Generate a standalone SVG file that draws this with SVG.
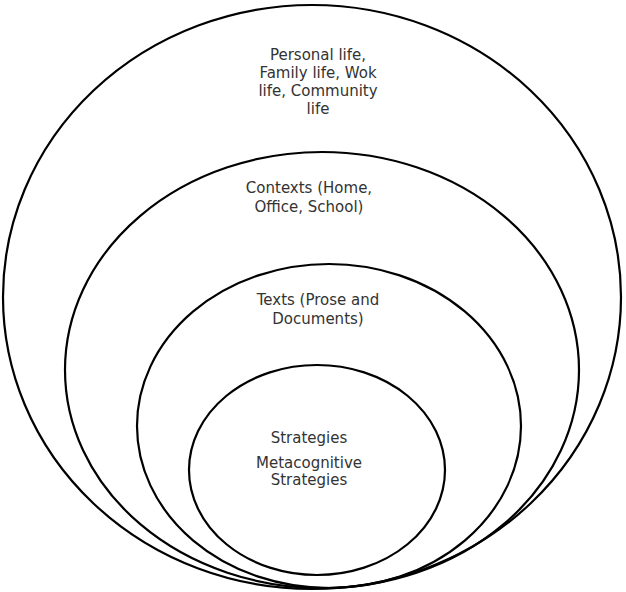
<svg xmlns="http://www.w3.org/2000/svg" width="626" height="592" viewBox="0 0 626 592">
<style>
.c{fill:none;stroke:#000;stroke-width:2.2}
.t{font-family:"DejaVu Sans",Verdana,sans-serif;font-size:15px;fill:#333;text-anchor:middle}
</style>
<rect width="626" height="592" fill="#fff"/>
<g id="outer"><ellipse class="c" cx="312" cy="297" rx="309" ry="292"/>
<text class="t" x="318" y="60">Personal life,</text>
<text class="t" x="318" y="78">Family life, Wok</text>
<text class="t" x="318" y="96">life, Community</text>
<text class="t" x="318" y="114">life</text></g>
<g id="contexts"><ellipse class="c" cx="322" cy="370" rx="257" ry="218"/>
<text class="t" x="309" y="193">Contexts (Home,</text>
<text class="t" x="309" y="212">Office, School)</text></g>
<g id="texts"><ellipse class="c" cx="329" cy="426" rx="192" ry="162"/>
<text class="t" x="318" y="305">Texts (Prose and</text>
<text class="t" x="318" y="324">Documents)</text></g>
<g id="strategies"><ellipse class="c" cx="317" cy="470" rx="128" ry="105"/>
<text class="t" x="309" y="443">Strategies</text>
<text class="t" x="309" y="468">Metacognitive</text>
<text class="t" x="309" y="485">Strategies</text></g>
</svg>
